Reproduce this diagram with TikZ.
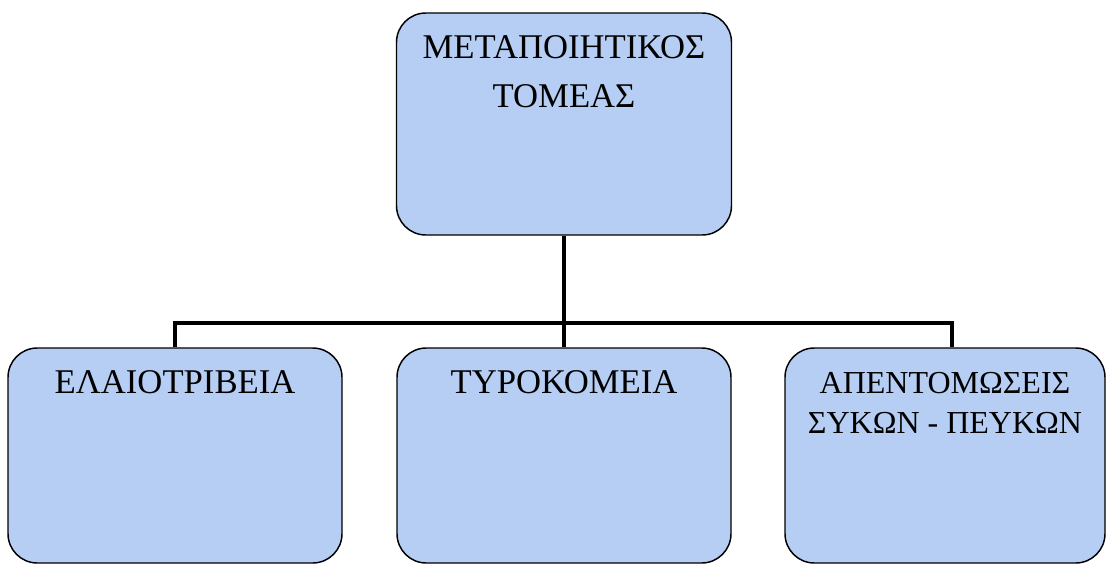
\documentclass[tikz,border=0pt]{standalone}
\usepackage{fontspec}
\setmainfont{Liberation Serif}
\definecolor{boxblue}{RGB}{182,206,244}
\tikzset{every picture/.style={line width=0.75pt}}

\begin{document}
\begin{tikzpicture}[x=0.75pt,y=0.75pt,yscale=-1,xscale=1,
  sectorbox/.style={draw,rounded corners=22pt,fill=boxblue,line width=1.1pt,inner sep=0pt},
  branch/.style={line width=3pt},
  boxtext/.style={anchor=base,inner sep=0.75pt,align=center,font=\fontsize{26}{36.75}\selectfont}]
\useasboundingbox (0,0) rectangle (1107,565);

%Shape: Rounded Rect [id:top]
\node [sectorbox,minimum width=251.25pt,minimum height=166.5pt] (meta) at (564,124) {};
%Shape: Rounded Rect [id:left]
\node [sectorbox,minimum width=250.5pt,minimum height=161.25pt] (elaio) at (175,455.5) {};
%Shape: Rounded Rect [id:middle]
\node [sectorbox,minimum width=250.5pt,minimum height=161.25pt] (tyro) at (564,455.5) {};
%Shape: Rounded Rect [id:right]
\node [sectorbox,minimum width=240pt,minimum height=161.25pt] (apent) at (945,455.5) {};

%Straight Lines [id:bus]
\coordinate (bus) at (564,323);
\draw [branch] (meta.south) -- (tyro.north) ;
\draw [branch] (elaio.north) |- (bus) -| ([xshift=5.25pt]apent.north) ;

% Text Node
\node [boxtext] (metatext) at (564,107) {ΜΕΤΑΠΟΙΗΤΙΚΟΣ\\ΤΟΜΕΑΣ};
% Text Node
\node [boxtext] (elaiotext) at (175,393) {ΕΛΑΙΟΤΡΙΒΕΙΑ};
% Text Node
\node [boxtext] (tyrotext) at (564,393) {ΤΥΡΟΚΟΜΕΙΑ};
% Text Node
\node [boxtext,font=\fontsize{24}{30}\selectfont] (apenttext) at (945,433) {ΑΠΕΝΤΟΜΩΣΕΙΣ\\ΣΥΚΩΝ - ΠΕΥΚΩΝ};

\end{tikzpicture}
\end{document}
